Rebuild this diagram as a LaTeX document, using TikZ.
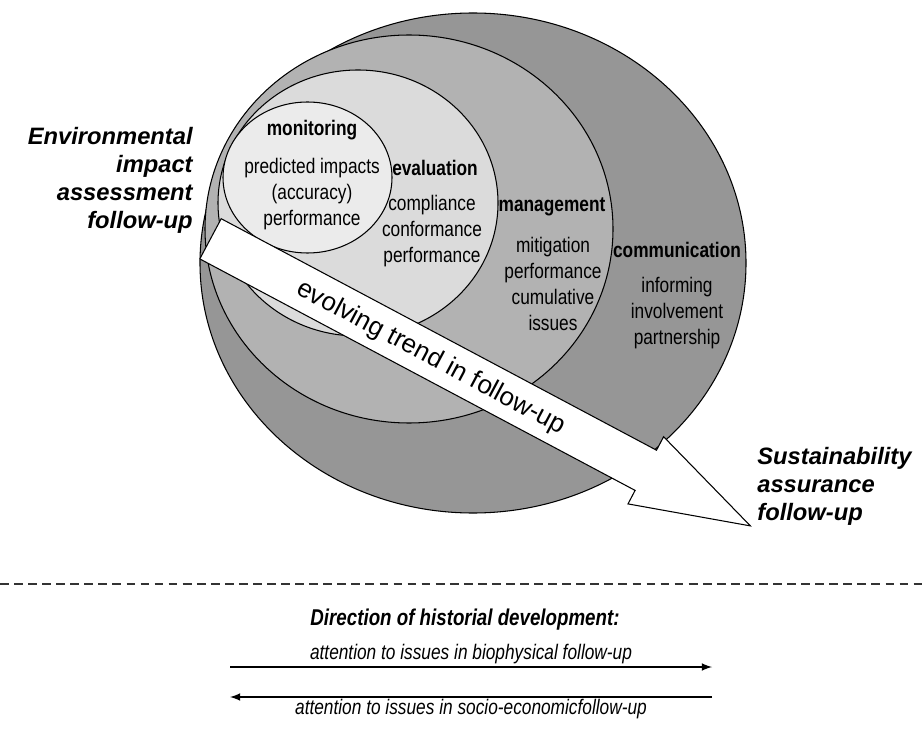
\documentclass[tikz,border=0pt]{standalone}
\usepackage{fontspec}
\setmainfont{Liberation Sans}
\newfontfamily\narrowfont{Liberation Sans}[FakeStretch=0.82]
\usetikzlibrary{positioning}
\definecolor{commgray}{gray}{0.59}
\definecolor{mgmtgray}{gray}{0.70}
\definecolor{evalgray}{gray}{0.86}
\definecolor{mongray}{gray}{0.92}

\begin{document}
\begin{tikzpicture}[
        x=0.02cm, y=-0.02cm,
        ring/.style={draw, line width=0.6pt},
        ringtitle/.style={font=\narrowfont\bfseries\fontsize{12}{14.7}\selectfont, inner sep=0pt},
        ringbody/.style={font=\narrowfont\fontsize{12}{14.7}\selectfont, align=center, inner sep=0pt},
        followup/.style={font=\bfseries\itshape\fontsize{13.5}{16}\selectfont, inner sep=0pt},
        trend/.style={font=\fontsize{14.8}{17}\selectfont, rotate=-28, inner sep=0pt},
        histlabel/.style={font=\narrowfont\itshape\fontsize{12}{14}\selectfont, inner sep=1pt}
    ]
        \useasboundingbox (0,0) rectangle (922,729);

        % Nested rings: communication > management > evaluation > monitoring
        \draw[ring, fill=commgray] (473,263) ellipse [x radius=273, y radius=250];
        \draw[ring, fill=mgmtgray] (409,229) ellipse [x radius=204, y radius=194];
        \draw[ring, fill=evalgray] (358,203) ellipse [x radius=140, y radius=133];
        \draw[ring, fill=mongray] (307.5,177.5) ellipse [x radius=84.5, y radius=75.5];

        % Big arrow across the rings
        \draw[ring, fill=white] (221.2,218.7) -- (656.5,450.2) -- (663.6,436.7) -- (750.4,525.9)
            -- (628.0,503.9) -- (635.1,490.4) -- (199.8,258.9) -- cycle;
        \node[trend] (trend_label) at (431,358) {evolving trend in follow-up};

        % Ring labels
        \node[ringtitle] (mon_title) at (312,130) {monitoring};
        \node[ringbody] (mon_body) at (312,194) {predicted impacts\\(accuracy)\\performance};
        \node[ringtitle] (eval_title) at (435,168) {evaluation};
        \node[ringbody] (eval_body) at (432,231) {compliance\\conformance\\performance};
        \node[ringtitle] (mgmt_title) at (552,207) {management};
        \node[ringbody] (mgmt_body) at (553,284) {mitigation\\performance\\cumulative\\issues};
        \node[ringtitle] (comm_title) at (677,250) {communication};
        \node[ringbody] (comm_body) at (677,313) {informing\\involvement\\partnership};

        % Start and end of the trend
        \node[followup, align=right, anchor=north east] (eia_label) at (193,127) {Environmental\\impact\\assessment\\follow-up};
        \node[followup, align=left, anchor=north west] (sa_label) at (757,447) {Sustainability\\assurance\\follow-up};

        % Historical development
        \coordinate (dash_left) at (0,584);
        \coordinate (dash_right) at (922,584);
        \draw[dash pattern=on 5pt off 3pt, line width=0.6pt, black!80] (dash_left) -- (dash_right);
        \node[font=\narrowfont\bfseries\itshape\fontsize{13}{15}\selectfont] (hist_title) at (465,620) {Direction of historial development:};
        \coordinate (bio_left) at (230,667);
        \coordinate (bio_right) at (712,667);
        \coordinate (soc_left) at (230,697);
        \coordinate (soc_right) at (712,697);
        \draw[-latex, line width=1pt] (bio_left) -- (bio_right) node[histlabel, midway, above] {attention to issues in biophysical follow-up};
        \draw[-latex, line width=1pt] (soc_right) -- (soc_left) node[histlabel, midway, below] {attention to issues in socio-economicfollow-up};
    \end{tikzpicture}
\end{document}
